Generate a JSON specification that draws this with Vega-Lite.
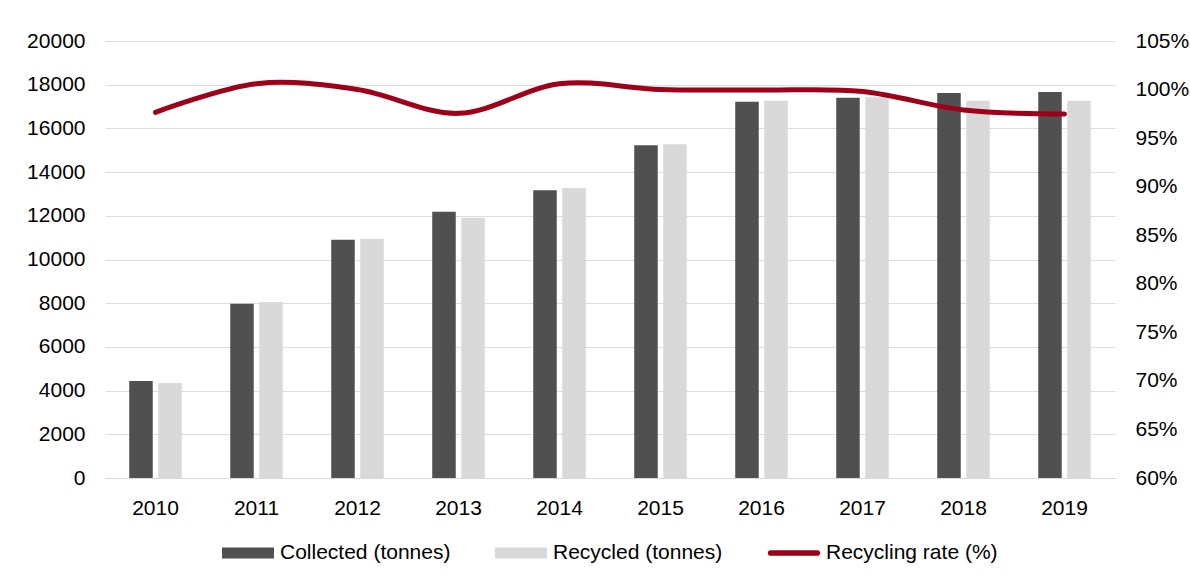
{
  "$schema": "https://vega.github.io/schema/vega-lite/v6.json",
  "width": 1010,
  "height": 437,
  "autosize": "none",
  "padding": {"left": 105, "top": 41, "right": 75, "bottom": 101},
  "background": "white",
  "config": {
    "view": {"stroke": null},
    "font": "Liberation Sans",
    "axis": {"labelFont": "Liberation Sans", "labelFontSize": 21, "labelColor": "#000000", "ticks": false, "domain": false, "title": null}
  },
  "datasets": {
    "bars": [
      {"year": "2010", "series": "Collected (tonnes)", "value": 4440},
      {"year": "2010", "series": "Recycled (tonnes)", "value": 4350},
      {"year": "2011", "series": "Collected (tonnes)", "value": 7970},
      {"year": "2011", "series": "Recycled (tonnes)", "value": 8050},
      {"year": "2012", "series": "Collected (tonnes)", "value": 10900},
      {"year": "2012", "series": "Recycled (tonnes)", "value": 10950},
      {"year": "2013", "series": "Collected (tonnes)", "value": 12190},
      {"year": "2013", "series": "Recycled (tonnes)", "value": 11915},
      {"year": "2014", "series": "Collected (tonnes)", "value": 13165},
      {"year": "2014", "series": "Recycled (tonnes)", "value": 13270},
      {"year": "2015", "series": "Collected (tonnes)", "value": 15225},
      {"year": "2015", "series": "Recycled (tonnes)", "value": 15270},
      {"year": "2016", "series": "Collected (tonnes)", "value": 17220},
      {"year": "2016", "series": "Recycled (tonnes)", "value": 17270},
      {"year": "2017", "series": "Collected (tonnes)", "value": 17405},
      {"year": "2017", "series": "Recycled (tonnes)", "value": 17420},
      {"year": "2018", "series": "Collected (tonnes)", "value": 17620},
      {"year": "2018", "series": "Recycled (tonnes)", "value": 17270},
      {"year": "2019", "series": "Collected (tonnes)", "value": 17665},
      {"year": "2019", "series": "Recycled (tonnes)", "value": 17270}
    ],
    "rate": [
      {"year": "2010", "series": "Recycling rate (%)", "rate": 0.9765},
      {"year": "2011", "series": "Recycling rate (%)", "rate": 1.006},
      {"year": "2012", "series": "Recycling rate (%)", "rate": 1.0},
      {"year": "2013", "series": "Recycling rate (%)", "rate": 0.9755},
      {"year": "2014", "series": "Recycling rate (%)", "rate": 1.006},
      {"year": "2015", "series": "Recycling rate (%)", "rate": 1.0},
      {"year": "2016", "series": "Recycling rate (%)", "rate": 0.9995},
      {"year": "2017", "series": "Recycling rate (%)", "rate": 0.998},
      {"year": "2018", "series": "Recycling rate (%)", "rate": 0.979},
      {"year": "2019", "series": "Recycling rate (%)", "rate": 0.9748}
    ]
  },
  "layer": [
    {
      "data": {"name": "bars"},
      "mark": {"type": "bar"},
      "encoding": {
        "x": {
          "field": "year", "type": "ordinal",
          "scale": {"paddingInner": 0.48, "paddingOuter": 0.24},
          "axis": {"labelAngle": 0, "labelPadding": 19, "domain": true, "domainColor": "#d9d9d9", "domainWidth": 1, "grid": false}
        },
        "xOffset": {"field": "series", "type": "nominal", "scale": {"paddingInner": 0.19, "paddingOuter": 0, "domain": ["Collected (tonnes)", "Recycled (tonnes)"]}},
        "y": {
          "field": "value", "type": "quantitative",
          "scale": {"domain": [0, 20000], "nice": false},
          "axis": {"values": [0, 2000, 4000, 6000, 8000, 10000, 12000, 14000, 16000, 18000, 20000], "format": "d", "grid": true, "gridColor": "#dedede", "gridWidth": 1, "labelPadding": 20}
        },
        "color": {
          "field": "series", "type": "nominal",
          "scale": {"domain": ["Collected (tonnes)", "Recycled (tonnes)", "Recycling rate (%)"], "range": ["#505050", "#d9d9d9", "#9e0019"]},
          "legend": {
            "orient": "none", "legendX": 117, "legendY": 486, "direction": "horizontal", "title": null,
            "labelFont": "Liberation Sans", "labelFontSize": 21, "labelColor": "#000000", "labelLimit": 400,
            "symbolSize": 2704, "columnPadding": 44, "labelOffset": 6,
            "encode": {
              "symbols": {
                "update": {
                  "shape": {"signal": "datum.value === 'Recycling rate (%)' ? 'M-0.9,-0.11H0.9A0.11,0.11,0,0,1,0.9,0.11H-0.9A0.11,0.11,0,0,1,-0.9,-0.11Z' : 'M-1,-0.21H1V0.21H-1Z'"},
                  "fill": {"scale": "color", "field": "value"},
                  "strokeWidth": {"value": 0},
                  "opacity": {"value": 1}
                }
              }
            }
          }
        }
      }
    },
    {
      "data": {"name": "rate"},
      "mark": {"type": "line", "interpolate": "cardinal", "strokeWidth": 5, "strokeCap": "round"},
      "encoding": {
        "x": {"field": "year", "type": "ordinal"},
        "y": {
          "field": "rate", "type": "quantitative",
          "scale": {"domain": [0.6, 1.05], "nice": false},
          "axis": {"orient": "right", "values": [0.6, 0.65, 0.7, 0.75, 0.8, 0.85, 0.9, 0.95, 1.0, 1.05], "format": ".0%", "grid": false, "labelPadding": 20}
        },
        "color": {"field": "series", "type": "nominal"}
      }
    }
  ],
  "resolve": {"scale": {"y": "independent"}}
}
